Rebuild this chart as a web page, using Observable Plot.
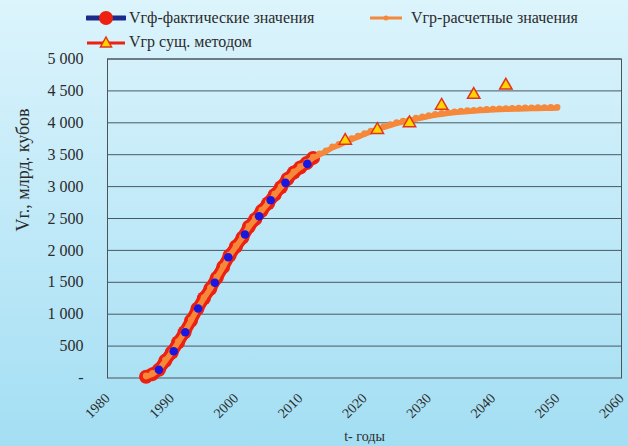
<!DOCTYPE html>
<html><head><meta charset="utf-8">
<script src="https://cdn.jsdelivr.net/npm/d3@7"></script>
<script src="https://cdn.jsdelivr.net/npm/@observablehq/plot@0.6"></script>
<style>
html,body{margin:0;padding:0;}
body{width:628px;height:446px;overflow:hidden;background:linear-gradient(#dcf4fc,#a3def3);font-family:"Liberation Serif","Times New Roman",serif;}
#wrap{position:relative;width:628px;height:446px;}
#legend{position:absolute;left:0;top:0;width:628px;height:56px;}
.item{position:absolute;display:flex;align-items:center;font-size:16px;color:#2b2b2b;white-space:nowrap;font-family:"Liberation Serif",serif;}
.item svg{margin-right:3px;}
#chart svg, #chart svg text{font-family:"Liberation Serif","Times New Roman",serif !important;}
</style></head>
<body><div id="wrap"><div id="chart"></div><div id="legend"></div></div>
<script>
// Actual (fact) values, yearly
const factYears = [1986,1987,1988,1989,1990,1991,1992,1993,1994,1995,1996,1997,1998,1999,2000,2001,2002,2003,2004,2005,2006,2007,2008,2009,2010,2011,2012];
const factValues = [20,60,130,270,400,560,718,900,1085,1250,1400,1570,1740,1920,2060,2200,2370,2490,2620,2740,2870,2990,3120,3220,3300,3370,3450];
// Blue dots on the fact curve
const blueYears = [1988.0,1990.3,1992.1,1994.1,1996.7,1998.8,2001.4,2003.6,2005.4,2007.7,2011.1];
const blueValues = [128,420,718,1089,1492,1893,2249,2535,2786,3059,3356];
// Calculated values (orange)
const calcYears = [1986,1987,1988,1989,1990,1991,1992,1993,1994,1995,1996,1997,1998,1999,2000,2001,2002,2003,2004,2005,2006,2007,2008,2009,2010,2011,2012,2013,2014,2015,2016,2017,2018,2019,2020,2021,2022,2023,2024,2025,2026,2027,2028,2029,2030,2031,2032,2033,2034,2035,2036,2037,2038,2039,2040,2041,2042,2043,2044,2045,2046,2047,2048,2049,2050];
const calcValues = [20,60,130,270,400,560,718,900,1085,1250,1400,1570,1740,1920,2060,2200,2370,2490,2620,2740,2870,2990,3120,3220,3300,3370,3450,3500,3550,3610,3650,3695,3740,3780,3820,3860,3900,3930,3960,3990,4015,4035,4060,4080,4100,4120,4135,4148,4160,4170,4178,4185,4192,4198,4203,4207,4211,4215,4218,4221,4224,4226,4228,4230,4232];
// Method values (triangles)
const methodYears = [2017,2022,2027,2032,2037,2042];
const methodValues = [3720,3890,3995,4270,4440,4585];
// Ticks
const xTicks = [1980,1990,2000,2010,2020,2030,2040,2050,2060];
const yTicks = [0,500,1000,1500,2000,2500,3000,3500,4000,4500,5000];
const yTickLabels = ["-","500","1 000","1 500","2 000","2 500","3 000","3 500","4 000","4 500","5 000"];

const fact = factYears.map((y,i)=>({year:y,v:factValues[i]}));
const blue = blueYears.map((y,i)=>({year:y,v:blueValues[i]}));
const calc = calcYears.map((y,i)=>({year:y,v:calcValues[i]}));
const method = methodYears.map((y,i)=>({year:y,v:methodValues[i]}));

const RED="#ee2010", ORANGE="#f5883a", BLUE="#1818e0";
const SERIF="'Liberation Serif','Times New Roman',serif";

const chart = Plot.plot({
  width:628, height:446,
  marginTop:58.5, marginBottom:68.5, marginLeft:107, marginRight:7,
  style:{background:"transparent", fontFamily:SERIF, color:"#2b2b2b"},
  x:{domain:[1980,2060]},
  y:{domain:[0,5000]},
  marks:[
    Plot.gridY(yTicks.filter(d=>d>0),{stroke:"#3a4a52",strokeOpacity:0.9,strokeWidth:1}),
    Plot.frame({stroke:"#4a555a",strokeWidth:1}),
    Plot.line(fact,{x:"year",y:"v",stroke:RED,strokeWidth:12,strokeLinecap:"round"}),
    Plot.dot(fact,{x:"year",y:"v",r:7,fill:RED}),
    Plot.line(calc,{x:"year",y:"v",stroke:ORANGE,strokeWidth:5.5,strokeLinecap:"round"}),
    Plot.dot(calc,{x:"year",y:"v",r:3.2,fill:ORANGE,dy:-0.9}),
    Plot.dot(blue,{x:"year",y:"v",r:4.3,fill:BLUE}),
    Plot.dot(method,{x:"year",y:"v",symbol:"triangle",r:4.6,fill:"#ffd500",stroke:"#e2341d",strokeWidth:1.5}),
    Plot.axisY({ticks:yTicks,tickFormat:(d)=>yTickLabels[yTicks.indexOf(d)],tickSize:0,tickPadding:24,fontSize:16,fontFamily:SERIF,label:null}),
    Plot.axisX({ticks:xTicks,tickFormat:d=>String(d),tickSize:0,tickPadding:18,dx:0,tickRotate:-45,fontSize:14,fontFamily:SERIF,
      label:"t- годы",labelAnchor:"center",labelArrow:"none",labelOffset:63}),
    Plot.text(["Vг., млрд. кубов"],{frameAnchor:"left",text:d=>d,rotate:-90,dx:-84,dy:13,fontSize:18,fontFamily:SERIF,fill:"#2b2b2b"})
  ]
});
chart.style.position="absolute"; chart.style.left="0"; chart.style.top="0";
d3.select(chart).selectAll("[aria-label='x-axis label']").attr("font-size",14);
document.getElementById("chart").appendChild(chart);

// Legend
const legendItems = [
  {label:"Vгф-фактические значения", left:86, top:8, kind:"fact"},
  {label:"Vгр-расчетные значения", left:368, top:8, kind:"calc"},
  {label:"Vгр сущ. методом", left:86, top:32, kind:"method"}
];
const lg = d3.select("#legend");
for (const it of legendItems){
  const d = lg.append("div").attr("class","item").style("left",it.left+"px").style("top",it.top+"px");
  const s = d.append("svg").attr("width",40).attr("height",20);
  if (it.kind==="fact"){
    s.append("line").attr("x1",1).attr("x2",39).attr("y1",10).attr("y2",10).attr("stroke","#1c2a8c").attr("stroke-width",5).attr("stroke-linecap","round");
    s.append("circle").attr("cx",20).attr("cy",10).attr("r",7).attr("fill",RED);
  } else if (it.kind==="calc"){
    s.append("line").attr("x1",2).attr("x2",34).attr("y1",10).attr("y2",10).attr("stroke",ORANGE).attr("stroke-width",3);
    s.append("circle").attr("cx",18).attr("cy",10).attr("r",2.5).attr("fill",ORANGE);
  } else {
    s.append("line").attr("x1",1).attr("x2",39).attr("y1",11).attr("y2",11).attr("stroke",RED).attr("stroke-width",3);
    s.append("path").attr("d","M20,5 L25.5,15 L14.5,15 Z").attr("fill","#ffd500").attr("stroke","#e2341d").attr("stroke-width",1.5);
  }
  d.append("span").text(it.label);
}
</script>
</body></html>
